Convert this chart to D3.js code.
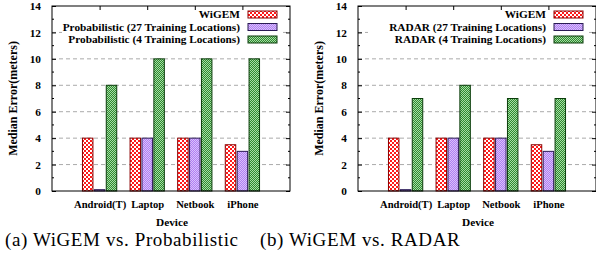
<!DOCTYPE html>
<html>
<head>
<meta charset="utf-8">
<script src="https://cdn.jsdelivr.net/npm/d3@7"></script>
<style>
  body { margin: 0; background: #fff; }
  svg { display: block; }
  text { font-family: "Liberation Serif", "Times New Roman", serif; }
</style>
</head>
<body>
<svg id="chart" width="596" height="271"></svg>
<script>
// devices on x axis
const devices = ['Android(T)', 'Laptop', 'Netbook', 'iPhone']
const yTicks = [0, 2, 4, 6, 8, 10, 12, 14]

// panel (a)
const wigemA = [4, 4, 4, 3.5]
const prob27 = [0.1, 4, 4, 3]
const prob4 = [8, 10, 10, 10]
const namesA = ['WiGEM', 'Probabilistic (27 Training Locations)', 'Probabilistic (4 Training Locations)']

// panel (b)
const wigemB = [4, 4, 4, 3.5]
const radar27 = [0.1, 4, 4, 3]
const radar4 = [7, 8, 7, 7]
const namesB = ['WiGEM', 'RADAR (27 Training Locations)', 'RADAR (4 Training Locations)']

const captions = ['(a) WiGEM vs. Probabilistic', '(b) WiGEM vs. RADAR']

const svg = d3.select('#chart')
const defs = svg.append('defs')

// motifs des barres
function checker(id, bg, fg, size) {
  const p = defs.append('pattern').attr('id', id)
    .attr('width', size * 2).attr('height', size * 2)
    .attr('patternUnits', 'userSpaceOnUse')
  p.append('rect').attr('width', size * 2).attr('height', size * 2).attr('fill', bg)
  p.append('rect').attr('width', size).attr('height', size).attr('fill', fg)
  p.append('rect').attr('x', size).attr('y', size).attr('width', size).attr('height', size).attr('fill', fg)
}
checker('pRed', '#ff1a1a', '#ffffff', 2)
checker('pPurple', '#b07ef2', '#d9c2fb', 1)
checker('pGreen', '#2f8a2f', '#a6dca6', 1)

const fills = ['url(#pRed)', 'url(#pPurple)', 'url(#pGreen)']
const strokes = ['#8b0000', '#2a1a55', '#0b3d0b']
const FS = 11.3

function drawPanel(x0, series, names, caption, capX) {
  const W = 238
  const top = 6, bottom = 191
  const g = svg.append('g')

  const x = d3.scaleLinear().domain([-1, 4]).range([x0, x0 + W])
  const y = d3.scaleLinear().domain([0, 14]).range([bottom, top])

  // grille
  g.selectAll('line.grid').data(yTicks.filter(t => t > 0 && t < 14))
    .enter().append('line')
    .attr('x1', x0).attr('x2', x0 + W)
    .attr('y1', d => y(d)).attr('y2', d => y(d))
    .attr('stroke', '#aaa').attr('stroke-width', 1)
    .attr('stroke-dasharray', '4,3')

  // barres
  const bw = 0.22
  const offs = [-0.25, 0, 0.25]
  series.forEach((vals, s) => {
    g.selectAll('rect.s' + s).data(vals).enter().append('rect')
      .attr('x', (d, i) => x(i + offs[s] - bw / 2))
      .attr('width', x(bw) - x(0))
      .attr('y', d => y(d))
      .attr('height', d => y(0) - y(d))
      .attr('fill', fills[s])
      .attr('stroke', strokes[s]).attr('stroke-width', 1)
  })

  // légende
  const lx = x0 + 188
  const ly = [14.5, 27, 39.5]
  g.append('rect').attr('x', x0 + 10).attr('y', 8).attr('width', 220).attr('height', 38)
    .attr('fill', '#fff')
  names.forEach((n, s) => {
    g.append('text').attr('x', lx).attr('y', ly[s]).attr('dy', '0.35em')
      .attr('text-anchor', 'end').attr('font-weight', 'bold').attr('font-size', FS)
      .text(n)
    g.append('rect').attr('x', lx + 8).attr('y', ly[s] - 3.5).attr('width', 29).attr('height', 7)
      .attr('fill', fills[s]).attr('stroke', strokes[s])
  })

  // axes
  const yAxis = d3.axisLeft(y).tickValues(yTicks).tickSize(4).tickPadding(7)
  const ya = g.append('g').attr('transform', `translate(${x0},0)`).call(yAxis)
  const yr = g.append('g').attr('transform', `translate(${x0 + W},0)`)
    .call(d3.axisRight(y).tickValues(yTicks).tickSize(4).tickFormat(''))
  // petites graduations
  const minor = d3.range(1, 14, 2)
  g.selectAll('line.minL').data(minor).enter().append('line')
    .attr('x1', x0).attr('x2', x0 + 2).attr('y1', d => y(d)).attr('y2', d => y(d))
    .attr('stroke', '#000')
  g.selectAll('line.minR').data(minor).enter().append('line')
    .attr('x1', x0 + W).attr('x2', x0 + W - 2).attr('y1', d => y(d)).attr('y2', d => y(d))
    .attr('stroke', '#000')
  const xa = g.append('g').attr('transform', `translate(0,${bottom})`)
    .call(d3.axisBottom(x).tickValues([0, 1, 2, 3]).tickFormat(i => devices[i]).tickSize(0).tickPadding(9))
  g.append('g').attr('transform', `translate(0,${top})`)
    .call(d3.axisTop(x).tickValues([0, 1, 2, 3]).tickSize(-4).tickFormat(''))

  g.selectAll('.domain').remove()
  g.selectAll('.tick line').attr('stroke', '#000')
  ya.selectAll('.tick line').attr('x2', 4)
  yr.selectAll('.tick line').attr('x2', -4)
  g.selectAll('.tick text')
    .attr('font-weight', 'bold').attr('font-size', FS).attr('fill', '#000')
  xa.selectAll('.tick text').attr('font-size', 10.6)

  // cadre
  g.append('rect').attr('x', x0).attr('y', top).attr('width', W).attr('height', bottom - top)
    .attr('fill', 'none').attr('stroke', '#000').attr('stroke-width', 1)

  // titres des axes
  g.append('text').attr('transform', `translate(${x0 - 39},${(top + bottom) / 2}) rotate(-90)`)
    .attr('text-anchor', 'middle').attr('dy', '0.35em')
    .attr('font-weight', 'bold').attr('font-size', 12).text('Median Error(meters)')
  g.append('text').attr('x', x0 + 120).attr('y', 222).attr('dy', '0.35em')
    .attr('text-anchor', 'middle').attr('font-weight', 'bold').attr('font-size', FS).text('Device')

  // légende de la sous-figure
  g.append('text').attr('x', capX).attr('y', 246)
    .attr('font-size', 19).attr('letter-spacing', 0.6).text(caption)
}

drawPanel(52, [wigemA, prob27, prob4], namesA, captions[0], 5)
drawPanel(358, [wigemB, radar27, radar4], namesB, captions[1], 260)
</script>
</body>
</html>
